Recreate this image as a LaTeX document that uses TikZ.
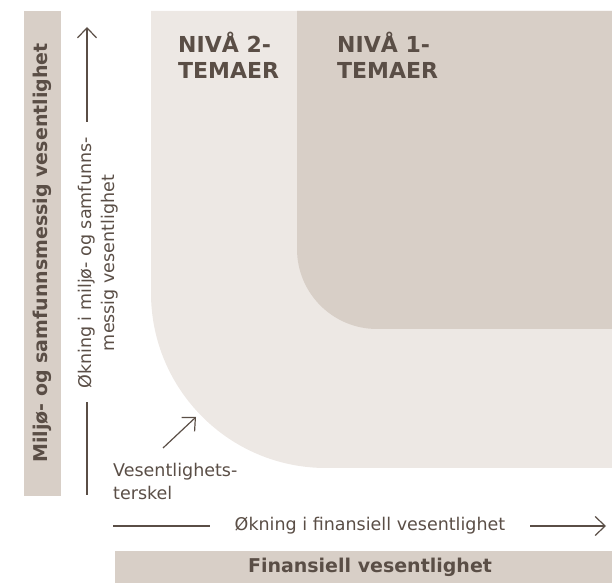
\documentclass[tikz,border=0pt]{standalone}
\usepackage{fontspec}
\setmainfont{DejaVu Sans}
\usetikzlibrary{arrows.meta}
\definecolor{txt}{RGB}{90,78,70}
\definecolor{lightbg}{RGB}{237,232,228}
\definecolor{darkbg}{RGB}{216,207,199}
\tikzset{
  lbl/.style={text=txt, inner sep=0pt, font=\fontsize{17.5}{23}\selectfont},
  bld/.style={text=txt, inner sep=0pt, font=\bfseries\fontsize{19}{23}\selectfont},
  head/.style={text=txt, inner sep=0pt, align=left, font=\bfseries\fontsize{22}{26}\selectfont},
  axis/.style={draw=txt, line width=1.2pt},
  arr/.style={axis, -{Straight Barb[length=10pt,width=19pt,line width=1.2pt]}}
}
\begin{document}
\begin{tikzpicture}[x=1pt,y=1pt]
\useasboundingbox (0,0) rectangle (612,583);
% regions
\fill[lightbg] (151,572) -- (151,290) arc[start angle=180,end angle=270,radius=175] -- (612,115) -- (612,572) -- cycle;
\fill[darkbg] (297,572) -- (297,334) arc[start angle=180,end angle=270,radius=80] -- (612,254) -- (612,572) -- cycle;
% bars
\fill[darkbg] (24,87) rectangle (61,572);
\fill[darkbg] (115,0) rectangle (612,32);
\node[bld, rotate=90] (ylab) at (42.5,330) {Miljø- og samfunnsmessig vesentlighet};
\node[bld] (xlab) at (370,16) {Finansiell vesentlighet};
% headings
\node[head, anchor=base west] (n2) at (178,504) {NIVÅ 2-\\TEMAER};
\node[head, anchor=base west] (n1) at (337,504) {NIVÅ 1-\\TEMAER};
% vertical axis
\node[lbl, rotate=90, align=center] (yaxis) at (98,320) {Økning i miljø- og samfunns-\\messig vesentlighet};
\coordinate (yb) at (87,88);
\coordinate (yb2) at (87,181);
\coordinate (yt1) at (87,461);
\coordinate (yt) at (87,556);
\draw[axis] (yb) -- (yb2);
\draw[arr] (yt1) -- (yt);
% horizontal axis
\node[lbl] (xaxis) at (370,57) {Økning i finansiell vesentlighet};
\coordinate (xl) at (113,57);
\coordinate (xl2) at (210,57);
\coordinate (xr1) at (530,57);
\coordinate (xr) at (606,57);
\draw[axis] (xl) -- (xl2);
\draw[arr] (xr1) -- (xr);
% threshold
\node[lbl, anchor=base west, align=left] (thr) at (113,83) {Vesentlighets-\\terskel};
\coordinate (ta) at (163,135);
\coordinate (tb) at (196,166);
\draw[arr] (ta) -- (tb);
\end{tikzpicture}
\end{document}
